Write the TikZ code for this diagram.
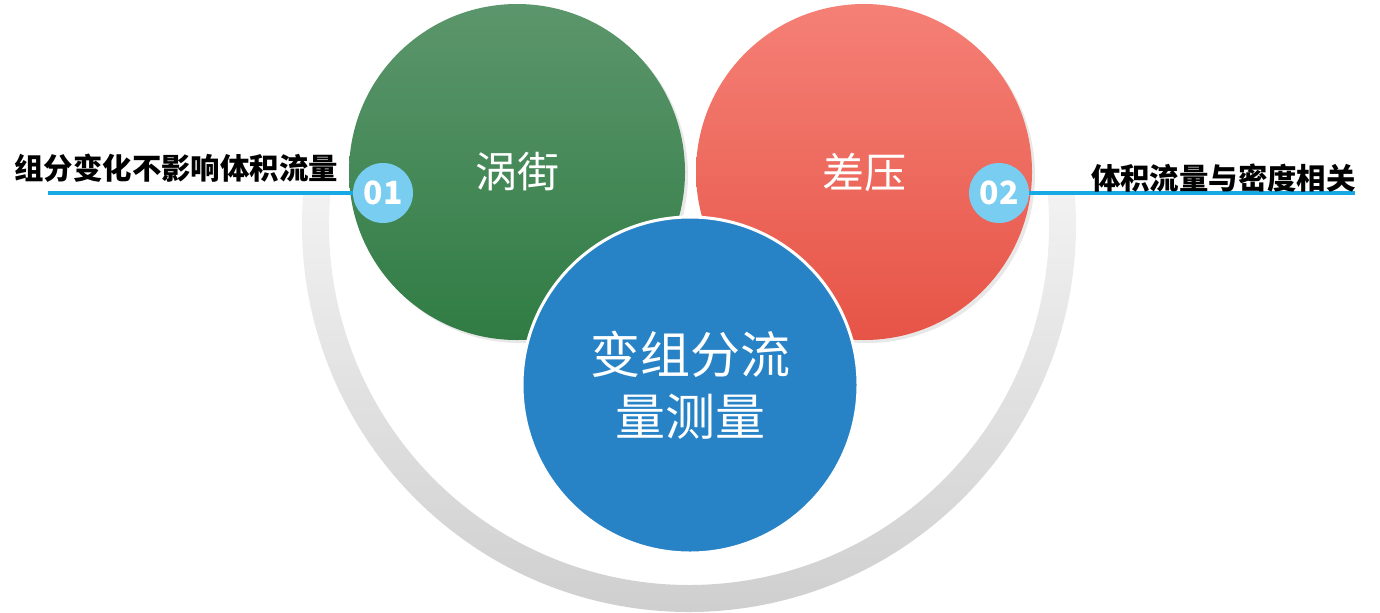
\documentclass[tikz,border=0pt]{standalone}
\usepackage{fontspec}
\setmainfont{Noto Sans CJK SC}
\usepackage{tikz}
\usetikzlibrary{shadows}
\definecolor{vortexTop}{RGB}{92,150,108}
\definecolor{vortexMid}{RGB}{57,137,80}
\definecolor{vortexBottom}{RGB}{48,124,68}
\definecolor{pressTop}{RGB}{245,128,118}
\definecolor{pressMid}{RGB}{246,104,92}
\definecolor{pressBottom}{RGB}{230,84,70}
\definecolor{flowBlue}{RGB}{39,131,198}
\definecolor{badgeBlue}{RGB}{120,205,240}
\definecolor{lineBlue}{RGB}{22,169,227}
\definecolor{ringTop}{RGB}{242,242,242}
\definecolor{ringBottom}{RGB}{206,206,206}
\tikzstyle{bigcircle} = [circle, inner sep=0pt, minimum size=168pt, text=white, font=\fontsize{21}{25}\selectfont]
\tikzstyle{softshadow} = [drop shadow={opacity=0.18, shadow xshift=1.5pt, shadow yshift=-1.5pt}]
\tikzstyle{badge} = [circle, inner sep=0pt, minimum size=30pt, fill=badgeBlue, text=white, font=\fontsize{16}{18}\selectfont\bfseries]
\tikzstyle{sidetext} = [inner sep=0pt, text=black, font=\fontsize{14.7}{17}\selectfont\bfseries]
\tikzstyle{leader} = [line width=1.6pt, draw=lineBlue]

\begin{document}
\begin{tikzpicture}[x=0.5pt, y=0.5pt]
    \useasboundingbox (0,0) rectangle (1380,-612);
    % grey ring under the circles
    \shade [top color=ringTop, bottom color=ringBottom]
        (689,-225) ++(175:387) arc (175:365:387) -- ++(185:27) arc (365:175:360) -- cycle;
    \node (vortex) [bigcircle, softshadow, top color=vortexTop, middle color=vortexMid, bottom color=vortexBottom] at (517,-172) {涡街};
    \node (diffp) [bigcircle, softshadow, top color=pressTop, middle color=pressMid, bottom color=pressBottom] at (864,-172) {差压};
    \node (multi) [bigcircle, fill=flowBlue, draw=white, line width=1.5pt, align=center, font=\fontsize{25}{31}\selectfont] at (690,-385) {变组分流\\量测量};
    % badges and leaders
    \node (one) [badge] at (383,-193) {01};
    \node (two) [badge] at (999,-193) {02};
    \coordinate (leftend) at (48,-193);
    \coordinate (rightend) at (1355,-193);
    \draw [leader] (leftend) -- (one);
    \draw [leader] (two) -- (rightend);
    \node (leftnote) [sidetext, anchor=west] at (14,-168) {组分变化不影响体积流量};
    \node (rightnote) [sidetext, anchor=east] at (1356,-178) {体积流量与密度相关};
\end{tikzpicture}
\end{document}
